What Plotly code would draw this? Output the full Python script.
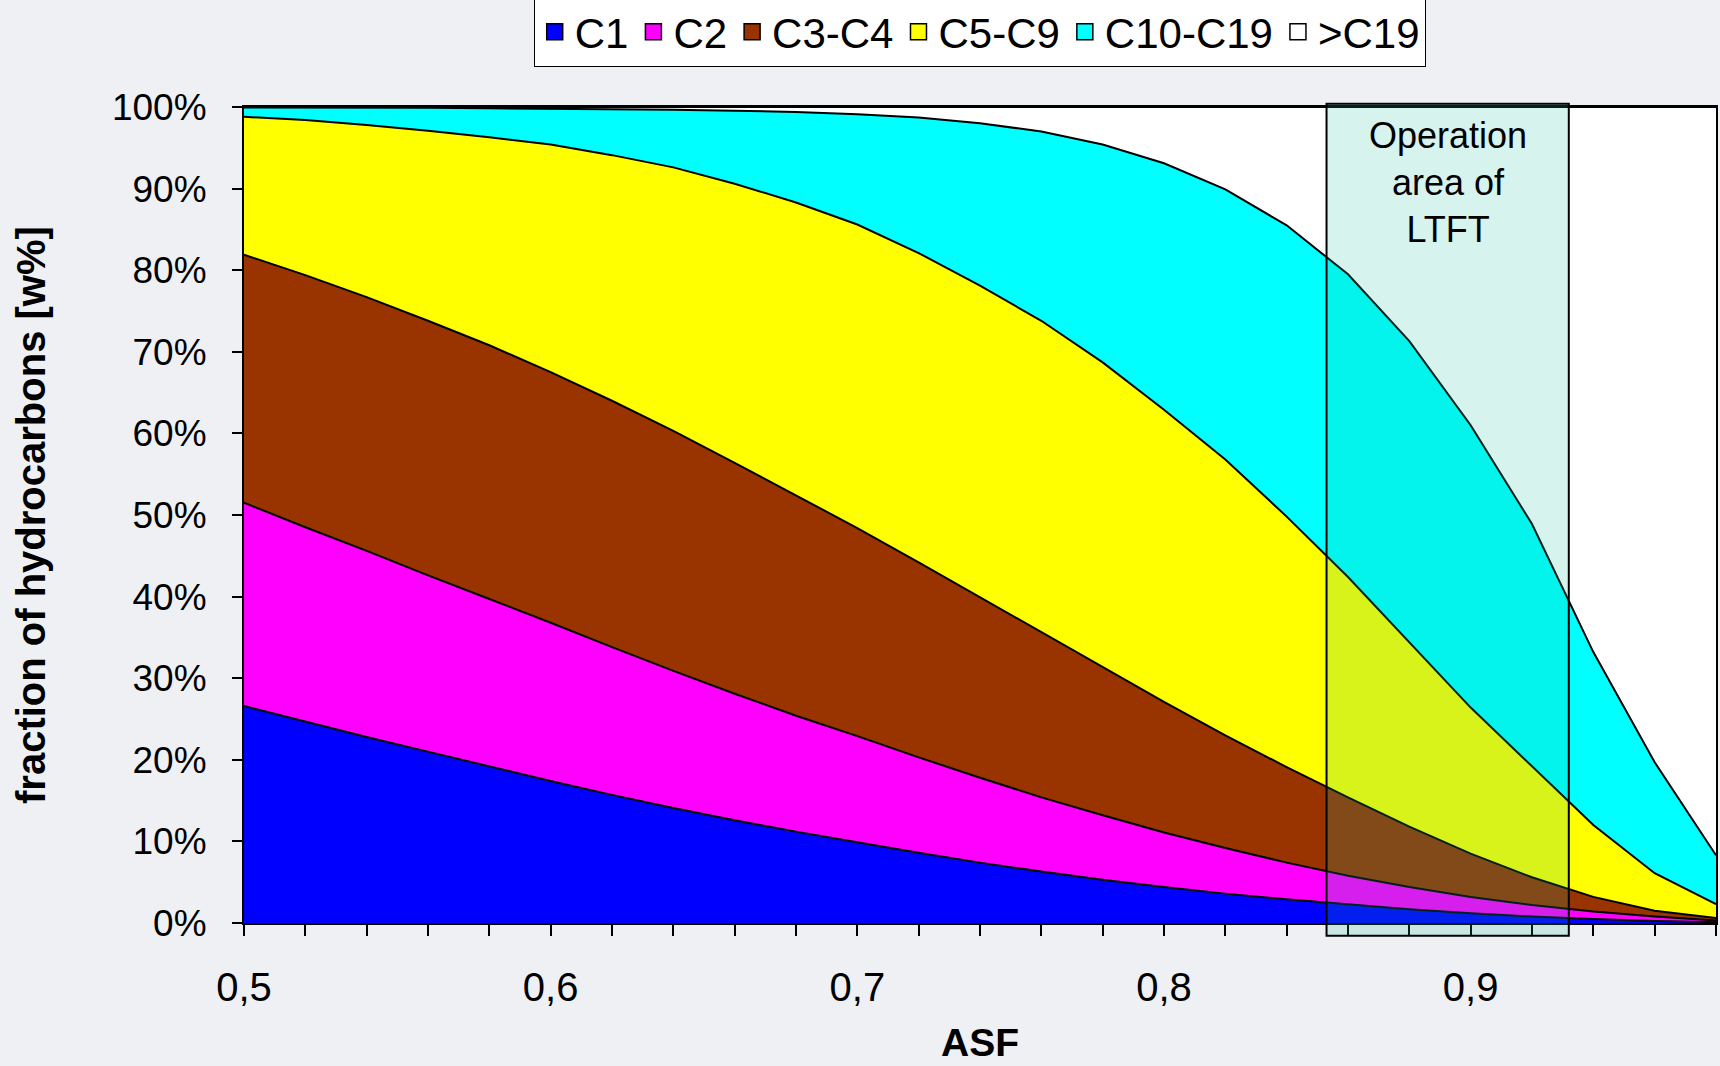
import plotly.graph_objects as go

# ASF chain-growth probability (x axis)
ASF = [0.50, 0.52, 0.54, 0.56, 0.58, 0.60, 0.62, 0.64, 0.66, 0.68,
       0.70, 0.72, 0.74, 0.76, 0.78, 0.80, 0.82, 0.84, 0.86, 0.88,
       0.90, 0.92, 0.94, 0.96, 0.98]

# weight fractions [w%] per product group
C1 = [26.6, 24.7, 22.8, 21.0, 19.2, 17.4, 15.7, 14.1, 12.6, 11.2,
      9.9, 8.6, 7.4, 6.3, 5.3, 4.4, 3.6, 2.9, 2.3, 1.7,
      1.2, 0.8, 0.5, 0.25, 0.1]
C2 = [24.9, 23.8, 22.8, 21.6, 20.5, 19.4, 18.1, 16.8, 15.5, 14.2,
      13.0, 11.7, 10.4, 9.1, 7.9, 6.7, 5.6, 4.5, 3.5, 2.7,
      2.0, 1.4, 0.9, 0.55, 0.2]
C3_C4 = [30.4, 30.9, 31.1, 31.2, 31.1, 30.7, 30.2, 29.4, 28.3, 27.0,
         25.5, 23.9, 22.1, 20.2, 18.1, 16.0, 13.8, 11.7, 9.6, 7.4,
         5.3, 3.4, 1.8, 0.7, 0.3]
C5_C9 = [16.9, 19.0, 21.1, 23.3, 25.5, 27.9, 30.1, 32.3, 34.2, 35.9,
         37.2, 37.9, 38.2, 38.2, 37.4, 35.8, 33.8, 30.7, 27.0, 22.6,
         17.9, 13.6, 8.8, 4.6, 1.7]
C10_C19 = [1.15, 1.55, 2.1, 2.8, 3.55, 4.4, 5.6, 7.05, 8.95, 11.1,
           13.5, 16.6, 19.9, 23.2, 26.7, 30.2, 33.1, 35.7, 37.1, 36.9,
           34.6, 29.7, 21.2, 13.6, 6.0]
GT_C19 = [0.05, 0.05, 0.1, 0.1, 0.15, 0.2, 0.3, 0.35, 0.45, 0.6,
          0.9, 1.3, 2.0, 3.0, 4.6, 6.9, 10.1, 14.5, 20.5, 28.7,
          39.0, 51.1, 66.8, 80.3, 91.7]

SERIES_NAMES = ["C1", "C2", "C3-C4", "C5-C9", "C10-C19", ">C19"]
SERIES_VALUES = [C1, C2, C3_C4, C5_C9, C10_C19, GT_C19]
SERIES_COLORS = ["#0000ff", "#ff00ff", "#993300", "#ffff00", "#00ffff", "#ffffff"]

X_RANGE = [0.5, 0.98]
X_TICKS = [0.5, 0.6, 0.7, 0.8, 0.9]
X_TICK_LABELS = ["0,5", "0,6", "0,7", "0,8", "0,9"]
Y_TICKS = [0, 10, 20, 30, 40, 50, 60, 70, 80, 90, 100]
Y_TICK_LABELS = ["0%", "10%", "20%", "30%", "40%", "50%", "60%", "70%", "80%", "90%", "100%"]

# operation area of LTFT (ASF range)
LTFT_RANGE = [0.853, 0.932]

FONT = "Liberation Sans, Arial, sans-serif"

fig = go.Figure()
for name, vals, color in zip(SERIES_NAMES, SERIES_VALUES, SERIES_COLORS):
    fig.add_trace(go.Scatter(
        x=ASF, y=vals, name=name, mode="lines", stackgroup="one",
        line=dict(color="black", width=2), fillcolor=color,
        showlegend=False, legendgroup=name,
    ))
# square legend keys
for name, color in zip(SERIES_NAMES, SERIES_COLORS):
    fig.add_trace(go.Scatter(
        x=[None], y=[None], name=name, mode="markers", legendgroup=name,
        marker=dict(symbol="square", size=26, color=color,
                    line=dict(color="black", width=1.5)),
    ))

def to_paper(v):
    return (v - X_RANGE[0]) / (X_RANGE[1] - X_RANGE[0])

fig.add_shape(
    type="rect", xref="paper", yref="paper",
    x0=to_paper(LTFT_RANGE[0]), x1=to_paper(LTFT_RANGE[1]), y0=-0.0157, y1=1.004,
    fillcolor="rgba(20,185,150,0.17)", line=dict(color="black", width=2),
    layer="above",
)
fig.add_annotation(
    x=sum(LTFT_RANGE) / 2, y=90.7, xref="x", yref="y",
    text="Operation<br>area of<br>LTFT", showarrow=False,
    font=dict(family=FONT, size=36, color="black"),
    align="center", xanchor="center", yanchor="middle",
)
fig.add_annotation(
    x=0.5, y=0, xref="paper", yref="paper", yshift=-119,
    text="<b>ASF</b>", showarrow=False,
    font=dict(family=FONT, size=39, color="black"),
    xanchor="center", yanchor="middle",
)
fig.add_annotation(
    x=0, y=0.5, xref="paper", yref="paper", xshift=-213,
    text="<b>fraction of hydrocarbons [w%]</b>", showarrow=False, textangle=-90,
    font=dict(family=FONT, size=40, color="black"),
    xanchor="center", yanchor="middle",
)

fig.update_layout(
    width=1720, height=1066,
    margin=dict(l=244, r=4, t=107, b=143, autoexpand=False),
    paper_bgcolor="#eef0f3",
    plot_bgcolor="#ffffff",
    showlegend=True,
    legend=dict(
        orientation="h", x=0.5, xanchor="center", y=1.135, yanchor="top",
        bgcolor="white", bordercolor="black", borderwidth=1.2,
        font=dict(family=FONT, size=42, color="black"),
        traceorder="normal", itemwidth=30,
    ),
    xaxis=dict(
        range=X_RANGE, tickvals=X_TICKS, ticktext=X_TICK_LABELS,
        ticks="outside", ticklen=11, tickwidth=1.5, tickcolor="black",
        minor=dict(dtick=0.02, tick0=0.5, ticks="outside", ticklen=11, tickwidth=1.5, tickcolor="black"),
        showline=True, linecolor="black", linewidth=2, mirror=True,
        showgrid=False, zeroline=False,
        tickfont=dict(family=FONT, size=40, color="black"),
        ticklabelstandoff=17,
    ),
    yaxis=dict(
        range=[0, 100], tickvals=Y_TICKS, ticktext=Y_TICK_LABELS,
        ticks="outside", ticklen=10, tickwidth=1.5, tickcolor="black",
        showline=True, linecolor="black", linewidth=2, mirror=True,
        showgrid=False, zeroline=False,
        tickfont=dict(family=FONT, size=37, color="black"),
        ticklabelstandoff=18,
    ),
)

fig.write_html("out.html", config={"displayModeBar": False},
               post_script="document.body.style.margin='0';")
